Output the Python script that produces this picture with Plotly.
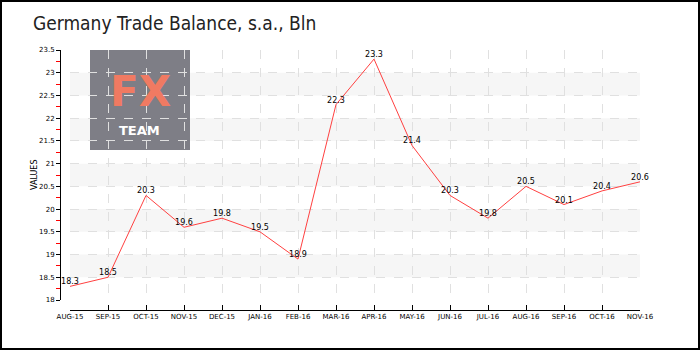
import plotly.graph_objects as go

categories = ["AUG-15", "SEP-15", "OCT-15", "NOV-15", "DEC-15", "JAN-16", "FEB-16", "MAR-16",
              "APR-16", "MAY-16", "JUN-16", "JUL-16", "AUG-16", "SEP-16", "OCT-16", "NOV-16"]
values = [18.3, 18.5, 20.3, 19.6, 19.8, 19.5, 18.9, 22.3, 23.3, 21.4, 20.3, 19.8, 20.5, 20.1, 20.4, 20.6]
title = "Germany Trade Balance, s.a., Bln"

W, H = 700, 350
px = lambda x: x / W
py = lambda y: (H - y) / H

fig = go.Figure()
fig.add_trace(go.Scatter(
    x=list(range(len(categories))), y=values, mode="lines+text",
    text=[f"{v:.1f}" for v in values], textposition="top center",
    textfont=dict(family="DejaVu Sans", size=8, color="#000"),
    line=dict(color="#ff4040", width=1), cliponaxis=False, showlegend=False,
))

shapes = []
# alternating bands
for lo in [18.5, 19.5, 20.5, 21.5, 22.5]:
    shapes.append(dict(type="rect", xref="x domain", yref="y", x0=0, x1=1, y0=lo, y1=lo + 0.5,
                       fillcolor="#f6f6f6", line=dict(width=0), layer="below"))
# logo
shapes.append(dict(type="rect", xref="paper", yref="paper", x0=px(90), x1=px(190), y0=py(150), y1=py(50),
                   fillcolor="#7a7a82", line=dict(width=0), layer="between", opacity=0.97))
# outer border
shapes.append(dict(type="rect", xref="paper", yref="paper", x0=px(1), x1=px(699), y0=py(349), y1=py(1),
                   line=dict(color="#000", width=2), fillcolor="rgba(0,0,0,0)"))

annotations = [
    dict(text="<b>FX</b>", xref="paper", yref="paper", x=px(140), y=py(91), xanchor="center", yanchor="middle",
         showarrow=False, font=dict(family="DejaVu Sans", size=42, color="#f07a62")),
    dict(text="<b>TEAM</b>", xref="paper", yref="paper", x=px(139), y=py(130), xanchor="center",
         yanchor="middle", showarrow=False, font=dict(family="DejaVu Sans", size=13, color="#ffffff")),
    dict(text="VALUES", xref="paper", yref="paper", x=px(34), y=py(175), xanchor="center", yanchor="middle",
         showarrow=False, textangle=-90, font=dict(family="DejaVu Sans", size=8, color="#000")),
]

fig.update_layout(
    width=W, height=H, margin=dict(l=0, r=0, t=0, b=0, autoexpand=False),
    paper_bgcolor="#fff", plot_bgcolor="#fff",
    title=dict(text=title, x=px(33), xanchor="left", y=py(23), yanchor="middle",
               font=dict(family="DejaVu Sans Condensed, DejaVu Sans", size=19, color="#222")),
    shapes=shapes, annotations=annotations,
    xaxis=dict(domain=[px(70), px(640)], range=[0, len(categories) - 1], automargin=False,
               tickvals=list(range(len(categories))), ticktext=categories,
               anchor="free", position=py(310), showline=True, linecolor="#000", linewidth=1,
               ticks="inside", ticklen=5, tickcolor="#000",
               tickfont=dict(family="DejaVu Sans", size=7, color="#000"),
               showgrid=True, gridcolor="#e0e0e0", griddash="dash", zeroline=False),
    yaxis=dict(domain=[py(300), py(50)], range=[18, 23.5], dtick=0.5, tick0=18, automargin=False,
               anchor="free", position=px(60), showline=True, linecolor="#000", linewidth=1,
               ticks="outside", ticklen=4, tickcolor="#000",
               tickfont=dict(family="DejaVu Sans", size=7, color="#000"),
               minor=dict(ticks="outside", ticklen=4, tickcolor="#ff0000", dtick=0.25, showgrid=False),
               showgrid=True, gridcolor="#e0e0e0", griddash="dash", zeroline=False),
)

fig.write_html("out.html")
